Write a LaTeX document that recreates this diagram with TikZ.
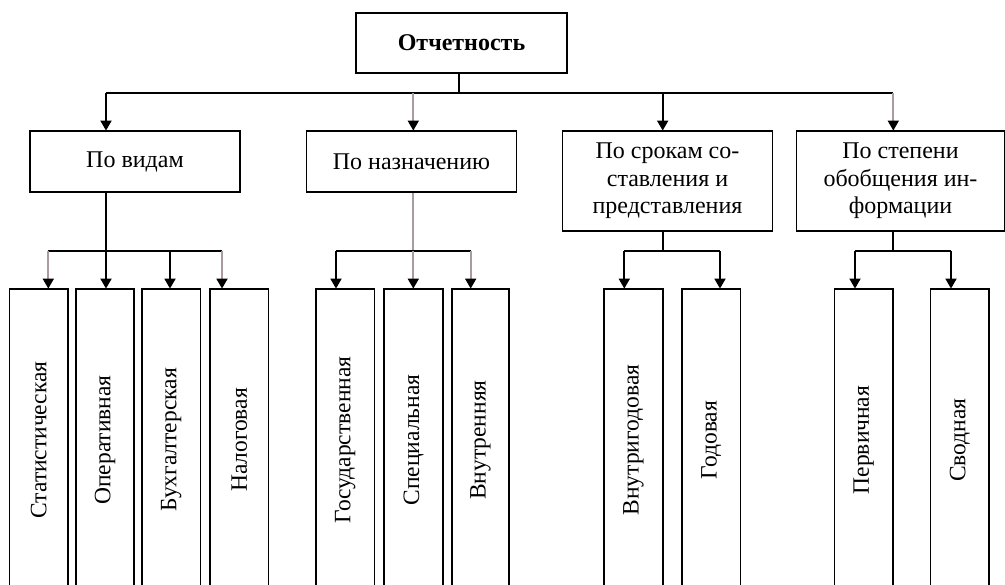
\documentclass[tikz,border=0pt]{standalone}
\usepackage{fontspec}
\setmainfont{Liberation Serif}
\usetikzlibrary{arrows.meta}
\definecolor{lgray}{RGB}{170,155,162}
\tikzset{
  box/.style={draw=black, line width=1.8pt, fill=white, inner sep=0pt, align=center},
  midbox/.style={box, minimum width=210pt, font=\fontsize{24}{27.5}\selectfont},
  leaf/.style={box, minimum width=58.5pt, minimum height=302pt},
  leaftext/.style={rotate=90, font=\fontsize{23.5}{26}\selectfont, inner sep=0pt},
  conn/.style={line width=1.8pt, black},
  arr/.style={conn, -{Triangle[width=11pt,length=10pt,color=black]}, shorten >=-0.5pt},
  garr/.style={arr, draw=lgray},
}
\begin{document}
\begin{tikzpicture}[x=1pt,y=-1pt]
\useasboundingbox (0,0) rectangle (1005,585);
\clip (0,0) rectangle (1005,585);
\fill[white] (0,0) rectangle (1005,585);

% top
\node[box, minimum width=211pt, minimum height=60pt, font=\bfseries\fontsize{24}{27}\selectfont] (top) at (461.5,43) {Отчетность};

% level 2
\node[midbox, minimum height=61pt] (p1) at (135,161.5) {По видам};
\node[midbox, minimum height=61pt] (p2) at (411.5,161.5) {По назначению};
\node[midbox, minimum height=100pt] (p3) at (667.5,181) {По срокам со-\\ставления и\\представления};
\node[midbox, minimum height=100pt, minimum width=208pt] (p4) at (900.5,181) {По степени\\обобщения ин-\\формации};

% leaves
\node[leaf] (a) at (38.8,440) {}; \node[leaftext] at (a) {Статистическая};
\node[leaf] (b) at (105,440) {};  \node[leaftext] at (b) {Оперативная};
\node[leaf] (c) at (171.2,440) {}; \node[leaftext] at (c) {Бухгалтерская};
\node[leaf] (d) at (239.3,440) {}; \node[leaftext] at (d) {Налоговая};
\node[leaf] (e) at (345.2,440) {}; \node[leaftext] at (e) {Государственная};
\node[leaf] (f) at (413.5,440) {}; \node[leaftext] at (f) {Специальная};
\node[leaf, minimum width=57pt] (g) at (480.5,440) {}; \node[leaftext] at (g) {Внутренняя};
\node[leaf] (h) at (633.5,440) {}; \node[leaftext] at (h) {Внутригодовая};
\node[leaf] (i) at (711.3,440) {}; \node[leaftext] at (i) {Годовая};
\node[leaf] (j) at (863.8,440) {}; \node[leaftext] at (j) {Первичная};
\node[leaf] (k) at (959.8,440) {}; \node[leaftext] at (k) {Сводная};

% top bus
\coordinate (s0) at (458.7,93);
\coordinate (t1) at (106,93);
\coordinate (t2) at (413.3,93);
\coordinate (t3) at (662.7,93);
\coordinate (t4) at (893.3,93);
\draw[conn] (s0 |- top.south) -- (s0);
\draw[conn] (t1) -- (t4);
\draw[arr] (t1) -- (t1 |- p1.north);
\draw[garr] (t2) -- (t2 |- p2.north);
\draw[arr] (t3) -- (t3 |- p3.north);
\draw[garr] (t4) -- (t4 |- p4.north);

% group 1
\coordinate (u1) at (106,251);
\coordinate (ua) at (48.3,251);
\coordinate (ub) at (106,251);
\coordinate (uc) at (170,251);
\coordinate (ud) at (222,251);
\draw[conn] (u1 |- p1.south) -- (u1);
\draw[conn] (ua) -- (ud);
\draw[garr] (ua) -- (ua |- a.north);
\draw[arr] (ub) -- (ub |- b.north);
\draw[arr] (uc) -- (uc |- c.north);
\draw[garr] (ud) -- (ud |- d.north);

% group 2
\coordinate (u2) at (413.3,251);
\coordinate (ue) at (336,251);
\coordinate (uf) at (413.3,251);
\coordinate (ug) at (470.7,251);
\draw[conn, draw=lgray] (u2 |- p2.south) -- (u2);
\draw[conn] (ue) -- (ug);
\draw[arr] (ue) -- (ue |- e.north);
\draw[garr] (uf) -- (uf |- f.north);
\draw[garr] (ug) -- (ug |- g.north);

% group 3
\coordinate (u3) at (662.7,251);
\coordinate (uh) at (624.3,251);
\coordinate (ui) at (720,251);
\draw[conn] (u3 |- p3.south) -- (u3);
\draw[conn] (uh) -- (ui);
\draw[arr] (uh) -- (uh |- h.north);
\draw[arr] (ui) -- (ui |- i.north);

% group 4
\coordinate (u4) at (893.3,251);
\coordinate (uj) at (855,251);
\coordinate (uk) at (951,251);
\draw[conn] (u4 |- p4.south) -- (u4);
\draw[conn] (uj) -- (uk);
\draw[arr] (uj) -- (uj |- j.north);
\draw[arr] (uk) -- (uk |- k.north);
\end{tikzpicture}
\end{document}
